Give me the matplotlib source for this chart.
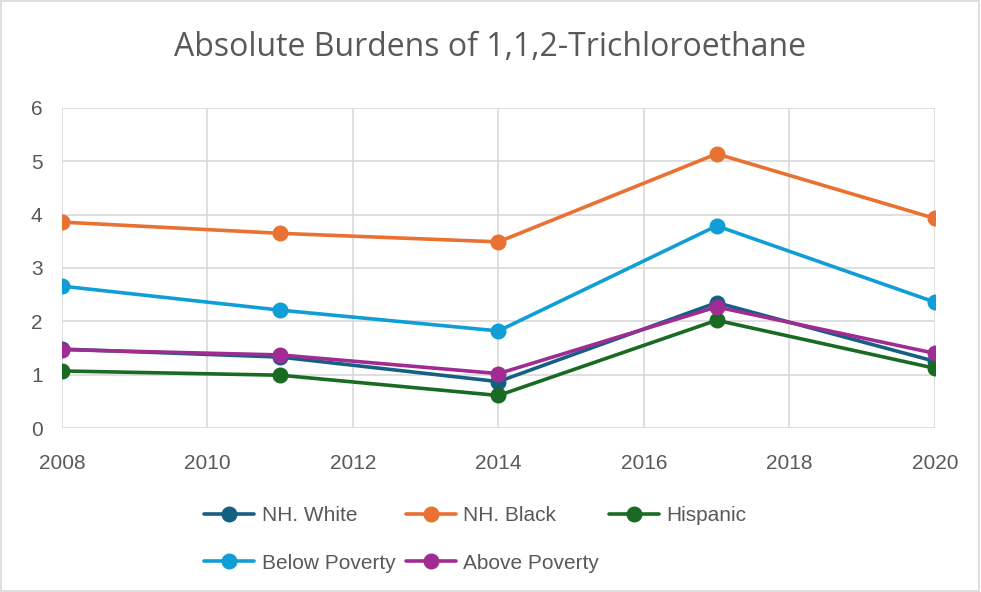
import matplotlib.pyplot as plt
from matplotlib.patches import Rectangle

years = [2008, 2011, 2014, 2017, 2020]
nh_white = [1.48, 1.33, 0.87, 2.35, 1.25]
nh_black = [3.86, 3.65, 3.49, 5.14, 3.93]
hispanic = [1.07, 0.99, 0.61, 2.02, 1.12]
below_poverty = [2.66, 2.21, 1.82, 3.79, 2.36]
above_poverty = [1.47, 1.37, 1.02, 2.27, 1.40]

series = [
    ('NH. White', nh_white, '#156082'),
    ('NH. Black', nh_black, '#E97132'),
    ('Hispanic', hispanic, '#196B24'),
    ('Below Poverty', below_poverty, '#0F9ED5'),
    ('Above Poverty', above_poverty, '#A02B93'),
]

plt.rcParams['font.family'] = ['Liberation Sans', 'DejaVu Sans']

fig = plt.figure(figsize=(9.81, 5.92), dpi=100)
ax = fig.add_axes([0.0632, 0.277, 0.8898, 0.5406])

lines = []
for name, vals, col in series:
    ln, = ax.plot(years, vals, color=col, lw=2.6, marker='o', ms=10.5, label=name,
                  solid_capstyle='round', zorder=3)
    lines.append(ln)

ax.set_xlim(2008, 2020)
ax.set_ylim(0, 6)
ax.set_xticks(range(2008, 2021, 2))
ax.set_yticks(range(0, 7))
ax.grid(True, color='#d9d9d9', lw=1.2)
for s in ax.spines.values():
    s.set_visible(False)
ax.tick_params(length=0, labelsize=15, colors='#595959')
ax.tick_params(axis='x', pad=19)
ax.tick_params(axis='y', pad=14)

fig.text(0.5, 0.919, 'Absolute Burdens of 1,1,2-Trichloroethane', ha='center', va='center',
         fontsize=23, color='#595959', family=['Open Sans', 'DejaVu Sans'])

# legend fills column by column, so reorder to read across rows
order = [0, 3, 1, 4, 2]
fig.legend([lines[i] for i in order], [series[i][0] for i in order],
           loc='upper left', bbox_to_anchor=(194 / 981, 1 - 496 / 592), ncol=3,
           frameon=False, borderpad=0, fontsize=15, handlelength=2.4,
           handletextpad=0.35, columnspacing=0.5, labelspacing=1.35,
           labelcolor='#595959')

fig.patches.append(Rectangle((0.001, 0.001), 0.997, 0.997, transform=fig.transFigure,
                             fill=False, edgecolor='#d9d9d9', lw=1.2))

fig.savefig('out.png', dpi=100)
